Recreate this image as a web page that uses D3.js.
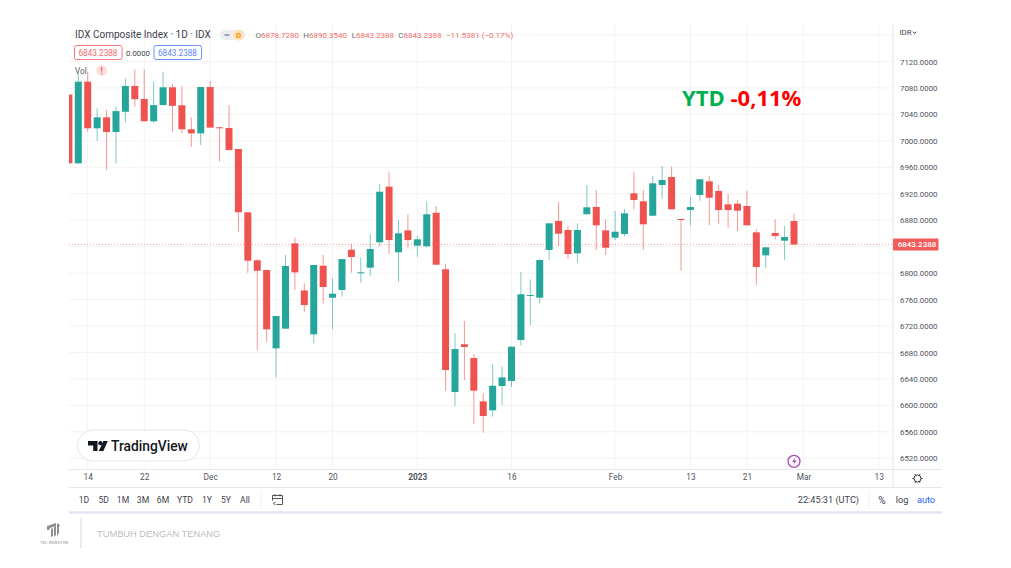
<!DOCTYPE html>
<html><head><meta charset="utf-8">
<script src="https://cdn.jsdelivr.net/npm/d3@7"></script>
<style>html,body{margin:0;padding:0;background:#fff}svg{display:block}text{font-family:Roboto,"Open Sans",sans-serif}</style>
</head><body><svg id="c" width="1011" height="568"></svg>
<script>
const opens=[7070,6966,7089.5,7019,7035.6,7013.4,7044,7083,7063.3,7029.6,7054,7081,7053.8,7017.5,7011.4,7081.4,7020.5,7019.4,6987.7,6892,6819.4,6804.7,6686.3,6716,6845,6773.7,6707.5,6811.2,6762.8,6774.5,6835.4,6799.7,6808.2,6846.6,6930.7,6831.5,6864.7,6841.5,6840.6,6891.3,6805.8,6620.2,6692.4,6671.6,6606.1,6592.5,6629.3,6636.9,6698.9,6765.4,6762.8,6835,6878.8,6865.2,6830,6889,6900,6864.7,6853.6,6859.1,6920.7,6908.6,6886.8,6933.2,6945.3,6881.8,6895.4,6918.1,6938.8,6924.2,6904,6905,6901.5,6861.7,6826.9,6860.7,6849,6878.728];
const highs=[7070,7102,7104.6,7049,7046.6,7051.6,7094.6,7108,7108,7089.5,7104.6,7086,7083.4,7035.6,7081.4,7090.5,7021,7054,6987.7,6892,6821.3,6804.7,6735.1,6827.4,6854,6784.6,6812.3,6827.4,6792.2,6821.3,6844,6823.3,6859.1,6934.8,6953.4,6880.3,6889,6856.6,6908,6901.5,6813.8,6709.4,6727.6,6677.2,6618.2,6662.6,6658.5,6689.8,6801.7,6790.6,6821.3,6875.3,6907.5,6871.2,6875.3,6933.2,6925.7,6881.4,6894,6897,6952.4,6925.7,6946.9,6962,6960.9,6882.3,6915.5,6941.9,6946.9,6933.2,6919.6,6910.6,6924.2,6866.7,6839,6881.4,6871.7,6890.354];
const lows=[6966,6966,7014,7000,6956,6966,7027.5,7051.6,7029.6,7027.5,7054,7013.4,7011.4,6991,6993.7,7020,6968.5,6986,6862.6,6800.6,6683.7,6696,6642.4,6716,6774.5,6741.2,6693.9,6754.3,6715,6764.3,6800.6,6785.5,6796,6841,6829,6787,6838.4,6824.8,6838.4,6812.7,6622.2,6599,6638.4,6571.4,6558.7,6583,6600.6,6627.8,6690.8,6721.5,6754.3,6819.8,6841,6821.3,6816.3,6889,6835,6827.4,6850,6856.1,6896.5,6835,6886.8,6912.5,6896.5,6803.6,6871.7,6909.5,6872.8,6874.7,6868.2,6863.7,6872.3,6781.6,6808.2,6851.1,6819.8,6843.2388];
const closes=[6966,7089.5,7019,7035.6,7013.4,7045,7083,7063,7029.6,7054,7081,7053,7017.5,7011.4,7081.4,7020,7019,6986,6892,6818.8,6803.6,6715,6735.1,6810.8,6801.2,6751.8,6812.3,6779,6768.9,6821.3,6824.4,6801.2,6836.5,6923.1,6850,6860.2,6850,6851.1,6889,6812.7,6653.5,6685.2,6688.3,6622.2,6583.9,6629.7,6642.4,6688.7,6768,6766.9,6819.8,6875.3,6859.6,6828.9,6865.2,6899.5,6872.3,6838.4,6862.6,6890.4,6910.6,6873.8,6935.8,6940.8,6896.5,6880.3,6900,6941.9,6914,6895.4,6895.4,6894.4,6872.3,6809.2,6839,6856.1,6854.6,6843.2388];
const priceTicks=[7120,7080,7040,7000,6960,6920,6880,6800,6760,6720,6680,6640,6600,6560,6520];
const gridOnly=[7160,6840];
const timeTickIndex=[2,8,15,22,28,37,47,58,66,72,78,86];
const timeTickLabels=['14','22','Dec','12','20','2023','16','Feb','13','21','Mar','13'];
const rangeLabels=['1D','5D','1M','3M','6M','YTD','1Y','5Y','All'];
const rangeCenters=[84,103.7,123,143,163,185,207,226,245];
const lastClose=6843.2388, change=-11.5381, changePct='−0.17%';

const red='#ef5350',green='#26a69a',gridC='#f3f3f3',lineC='#e6e7ec',txt='#50535e';
const L=69,R=893,T=24,B=469.5,RR=942;
const svg=d3.select('#c');
const y=d3.scaleLinear().domain([7120,6520]).range([61.5,458.3]);
const x=d3.scaleLinear().domain([0,77]).range([68.9,794]);
const f4=d3.format('.4f');

svg.append('clipPath').attr('id','pane').append('rect').attr('x',L).attr('y',T).attr('width',R-L).attr('height',B-T);

// grid
const grid=svg.append('g');
grid.selectAll('.h').data(priceTicks.concat(gridOnly)).join('line').attr('x1',L).attr('x2',R).attr('y1',d=>y(d)).attr('y2',d=>y(d)).attr('stroke',gridC);
grid.selectAll('.v').data(timeTickIndex).join('line').attr('x1',d=>x(d)).attr('x2',d=>x(d)).attr('y1',T).attr('y2',B).attr('stroke',gridC);

// last price line
svg.append('line').attr('x1',L).attr('x2',R).attr('y1',y(lastClose)).attr('y2',y(lastClose)).attr('stroke',red).attr('stroke-opacity',.5).attr('stroke-dasharray','1 2');

// candles
const pane=svg.append('g').attr('clip-path','url(#pane)');
const idx=d3.range(opens.length);
const col=i=>closes[i]>=opens[i]?green:red;
pane.selectAll('.w').data(idx).join('line').attr('x1',i=>x(i)).attr('x2',i=>x(i)).attr('y1',i=>y(highs[i])).attr('y2',i=>y(lows[i])).attr('stroke',col).attr('stroke-opacity',.6);
pane.selectAll('.b').data(idx).join('rect').attr('x',i=>x(i)-3.5).attr('width',7)
 .attr('y',i=>y(Math.max(opens[i],closes[i]))).attr('height',i=>Math.max(1,Math.abs(y(opens[i])-y(closes[i])))).attr('fill',col);

// price axis
const ax=svg.append('g').attr('transform',`translate(${R},0)`).call(d3.axisRight(y).tickValues(priceTicks).tickFormat(f4).tickSize(0).tickPadding(7));
ax.select('.domain').remove();
ax.selectAll('text').attr('font-size',7.9).attr('fill',txt).attr('dy','.32em');
// time axis
const tx=svg.append('g').attr('transform',`translate(0,${B})`).call(d3.axisBottom(x).tickValues(timeTickIndex).tickFormat((d,i)=>timeTickLabels[i]).tickSize(0).tickPadding(5));
tx.select('.domain').remove();
tx.selectAll('text').attr('font-size',8.3).attr('fill',txt).attr('font-weight',(d,i)=>timeTickLabels[i]==='2023'?700:400);

// frame lines
const rule=(x1,y1,x2,y2,c,w)=>svg.append('line').attr('x1',x1).attr('y1',y1).attr('x2',x2).attr('y2',y2).attr('stroke',c).attr('stroke-width',w||1);
rule(R,24,R,487.5,lineC);
rule(L,B,RR,B,lineC);
rule(L,487.5,RR,487.5,lineC);
rule(L,512.5,RR,512.5,'#e3e5f3',2.5);
rule(261,491,261,508,'#eef0f3');
rule(869,491,869,508,'#eef0f3');

const T_=(s,px,py,o={})=>svg.append('text').attr('x',px).attr('y',py).text(s).attr('font-size',o.fs||8.6).attr('fill',o.c||txt).attr('text-anchor',o.a||'start').attr('font-weight',o.w||400);

// price tag
svg.append('rect').attr('x',893).attr('y',238.5).attr('width',45.5).attr('height',12).attr('rx',1).attr('fill',red).attr('fill-opacity',.95);
T_(f4(lastClose),917,y(lastClose)+2.9,{c:'#fff',a:'middle',w:500,fs:8});
T_('IDR',899.5,35,{fs:7.8,c:'#444'});
svg.append('path').attr('d','M912.8 31.8l1.8 1.4 1.8-1.4').attr('fill','none').attr('stroke','#444');

// header
T_('IDX Composite Index · 1D · IDX',75,38,{fs:10,c:'#3f424d'});
svg.append('rect').attr('x',220).attr('y',30).attr('width',25).attr('height',10).attr('rx',5).attr('fill','#eceef1');
svg.append('circle').attr('cx',238.5).attr('cy',35).attr('r',5.5).attr('fill','#ffe3b8');
T_('D',238.5,38,{fs:8,c:'#f79009',a:'middle',w:700});
svg.append('rect').attr('x',224.5).attr('y',34.3).attr('width',5).attr('height',1.5).attr('fill','#8b8e98');
const red2='#f26d6b';
[['O',opens[77],255.5],['H',highs[77],303.3],['L',lows[77],351.7],['C',closes[77],398.3]].forEach(([k,v,px])=>{
  const t=T_(k,px,38,{fs:8,c:'#6a6d78'});
  t.append('tspan').attr('fill',red2).text(f4(v));
});
T_(`−${Math.abs(change).toFixed(4)} (${changePct})`,446,38,{fs:8,c:red2});
const box=(bx,c,tc)=>{svg.append('rect').attr('x',bx+.5).attr('y',45.5).attr('width',47.5).attr('height',14).attr('rx',2).attr('fill','#fff').attr('stroke',c);T_(f4(lastClose),bx+24,55.5,{fs:8.2,c:tc,a:'middle'});};
box(74,'#f3787a',red2);
T_('0.0000',138,55.5,{fs:7.8,a:'middle',c:'#444'});
box(153.5,'#6d94ff','#5f86f5');
T_('Vol',75,74,{fs:8.3,c:'#5a5d68'});
svg.append('circle').attr('cx',101.7).attr('cy',70.5).attr('r',5.5).attr('fill','#fbe0e0');
T_('!',101.7,73.5,{fs:8.5,c:'#ef5350',a:'middle',w:700});

// annotation
const ann=svg.append('text').attr('x',682).attr('y',105.5).attr('font-size',22).attr('font-weight',700).style('font-family','"Open Sans",sans-serif');
ann.append('tspan').attr('fill','#00b050').text('YTD ');
ann.append('tspan').attr('fill','#ff0000').text('-0,11%');

// watermark pill
svg.append('rect').attr('x',77.5).attr('y',430).attr('width',122).attr('height',31).attr('rx',15.5).attr('fill','#fff').attr('stroke','#e3e5ec');
const logo=svg.append('g').attr('fill','#131722');
logo.append('path').attr('d','M88 441h9.5v10h-4.3v-5.6H88z');
logo.append('circle').attr('cx',100.4).attr('cy',443.2).attr('r',2.1);
logo.append('path').attr('d','M103.4 441h4.4l-4.4 10h-4.6z');
T_('TradingView',111,451,{fs:13.8,c:'#131722',w:500});

// lightning
svg.append('circle').attr('cx',794).attr('cy',461.3).attr('r',6).attr('fill','#fff').attr('stroke','#ab47bc').attr('stroke-width',1.3);
svg.append('path').attr('d','M795.6 457.2l-3.6 4.7h2.2l-1.2 3.2 3.6-4.7h-2.2z').attr('fill','#ab47bc');

// gear
svg.append('circle').attr('cx',917.5).attr('cy',478.5).attr('r',3.5).attr('fill','none').attr('stroke','#333').attr('stroke-width',1);
d3.range(6).forEach(i=>{const a=i*Math.PI/3;rule(917.5+3.5*Math.cos(a),478.5+3.5*Math.sin(a),917.5+5*Math.cos(a),478.5+5*Math.sin(a),'#333');});

// bottom toolbar
rangeLabels.forEach((s,i)=>T_(s,rangeCenters[i],503,{fs:8.6,a:'middle',c:'#3f424d'}));
svg.append('path').attr('d','M272.5 495.5h10v9h-6M272.5 498.5h10M272.5 495.5v5M275 494v2.5M280 494v2.5M275.5 502l-2 1.5 2 1.5').attr('fill','none').attr('stroke','#444').attr('stroke-width',.9);
T_('22:45:31 (UTC)',859,503,{fs:9.2,a:'end',c:'#3f424d'});
T_('%',882,503.5,{fs:10,a:'middle',c:'#3f424d'});
T_('log',902,503,{fs:9.2,a:'middle',c:'#3f424d'});
T_('auto',926,503,{fs:9.2,a:'middle',c:'#2962ff'});

// footer
rule(81,518,81,548,'#d5d5d5');
T_('TUMBUH DENGAN TENANG',97,537,{fs:9.3,c:'#bdbdbd'}).style('font-family','"Liberation Sans",sans-serif');
const fl=svg.append('g').attr('fill','#8f8f8f');
fl.append('path').attr('d','M47 526l9 -3v3l-6 2-1 2h-2zM51 529l2-1v8l-2 1zM54 527l2-1v9l-2 2zM57 523l3 2-1 2v6l-2 3z');
T_('TEC INVESTOR',54,543.5,{fs:4.2,a:'middle',c:'#8f8f8f'});
</script></body></html>
